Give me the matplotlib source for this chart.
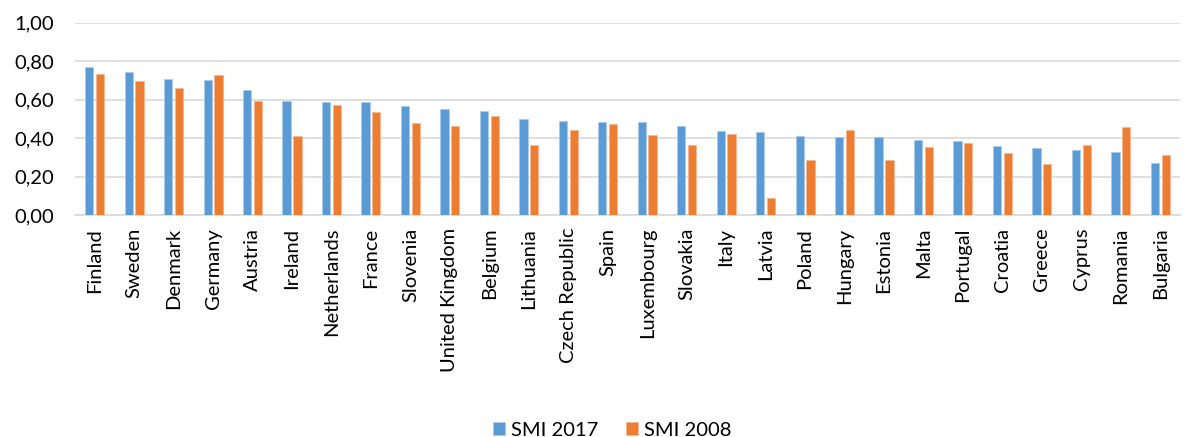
import matplotlib
matplotlib.use("Agg")
import matplotlib.pyplot as plt
import numpy as np
from matplotlib.ticker import FuncFormatter

countries = ["Finland", "Sweden", "Denmark", "Germany", "Austria", "Ireland",
             "Netherlands", "France", "Slovenia", "United Kingdom", "Belgium",
             "Lithuania", "Czech Republic", "Spain", "Luxembourg", "Slovakia",
             "Italy", "Latvia", "Poland", "Hungary", "Estonia", "Malta",
             "Portugal", "Croatia", "Greece", "Cyprus", "Romania", "Bulgaria"]
smi_2017 = [0.772, 0.744, 0.708, 0.704, 0.652, 0.592, 0.588, 0.587, 0.566,
            0.550, 0.542, 0.500, 0.491, 0.484, 0.484, 0.464, 0.438, 0.433,
            0.412, 0.408, 0.407, 0.393, 0.388, 0.358, 0.351, 0.339, 0.329, 0.272]
smi_2008 = [0.734, 0.697, 0.661, 0.728, 0.595, 0.412, 0.571, 0.538, 0.479,
            0.462, 0.516, 0.363, 0.443, 0.474, 0.417, 0.363, 0.422, 0.092,
            0.289, 0.443, 0.289, 0.355, 0.377, 0.324, 0.265, 0.365, 0.458, 0.311]
series_labels = ["SMI 2017", "SMI 2008"]
yticks = [0.0, 0.2, 0.4, 0.6, 0.8, 1.0]

plt.rcParams['font.family'] = ['Lato', 'DejaVu Sans']
FS = 14.5

fig = plt.figure(figsize=(11.84, 4.37), dpi=100)
ax = fig.add_axes([0.0633, 0.5073, 0.9333, 0.4407])

x = np.arange(len(countries))
w = 0.21
off = 0.137
ax.bar(x - off, smi_2017, width=w, color="#5B9BD5", edgecolor="#A9CBEA",
       linewidth=0.6, label=series_labels[0], zorder=3)
ax.bar(x + off, smi_2008, width=w, color="#ED7D31", edgecolor="#F5B894",
       linewidth=0.6, label=series_labels[1], zorder=3)

ax.set_xlim(-0.5, len(countries) - 0.5)
ax.set_ylim(0, 1.0)
ax.set_yticks(yticks)
ax.yaxis.set_major_formatter(FuncFormatter(lambda v, p: f"{v:.2f}".replace(".", ",")))
ax.set_xticks(x)
ax.set_xticklabels(countries, rotation=90, fontsize=FS, color="#000000")
ax.tick_params(axis='y', labelsize=FS, length=0, pad=15, labelcolor="#000000")
ax.tick_params(axis='x', length=0, pad=9)
ax.grid(axis='y', color="#D9D9D9", linewidth=1.2, zorder=0)
for s in ["top", "right", "left"]:
    ax.spines[s].set_visible(False)
ax.spines["bottom"].set_color("#D9D9D9")
ax.spines["bottom"].set_linewidth(1.2)

fig.legend(loc="lower center", bbox_to_anchor=(0.517, -0.045), ncol=2,
           frameon=False, fontsize=FS, handlelength=0.6, handleheight=0.6,
           handletextpad=0.3, columnspacing=1.4)

fig.savefig("out.png", dpi=100)
